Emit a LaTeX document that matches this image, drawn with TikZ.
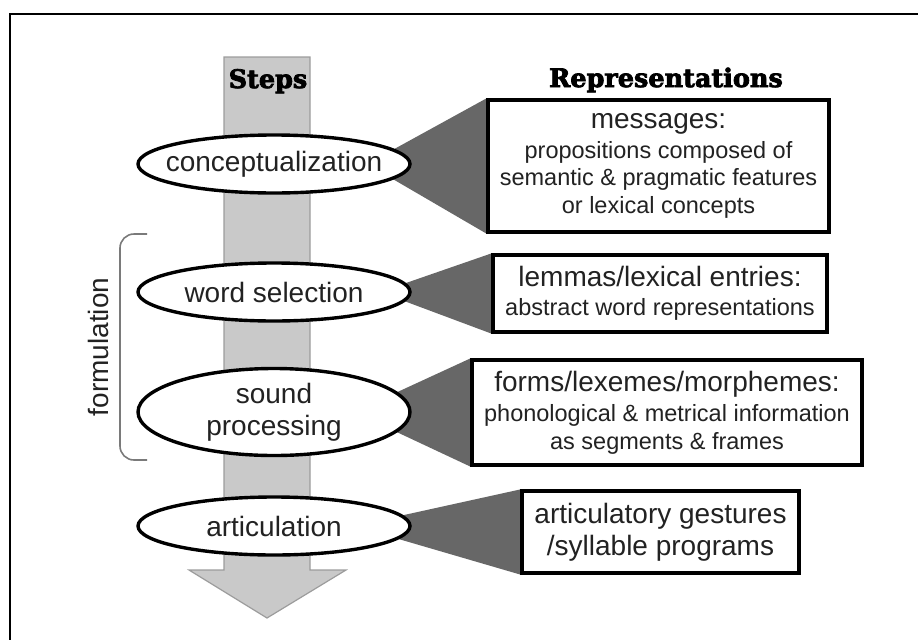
\documentclass[tikz,border=0pt]{standalone}
\usepackage{fontspec}
\setmainfont{Liberation Sans}
\newfontfamily\slabfont{DejaVu Serif}[BoldFeatures={FakeBold=3}]
\usetikzlibrary{shapes.geometric,backgrounds}
\definecolor{shaftgray}{HTML}{C9C9C9}
\definecolor{shaftedge}{HTML}{9C9C9C}
\definecolor{wedgegray}{HTML}{676767}
\definecolor{inkgray}{HTML}{222222}
\definecolor{bracegray}{HTML}{7A7A7A}
\newcommand{\bigtxt}{\fontsize{28}{32}\selectfont}
\newcommand{\smalltxt}{\fontsize{23.5}{27.5}\selectfont}

\begin{document}
\begin{tikzpicture}[x=1pt,y=-1pt]
\tikzstyle{stepell}=[ellipse, draw, line width=3.4pt, fill=white, minimum width=272pt, minimum height=58pt, inner sep=0pt]
\tikzstyle{steplabel}=[text=inkgray, font=\bigtxt, align=center]
\tikzstyle{reprbox}=[rectangle, draw, line width=3.2pt, fill=white, text=inkgray, align=center, inner sep=0pt, font=\smalltxt]
\tikzstyle{headtxt}=[font=\slabfont\bfseries\fontsize{25.5}{30}\selectfont, anchor=base]
\useasboundingbox (0,0) rectangle (918,640);
\draw[line width=2.8pt] (918,14) -- (10,14) -- (10,640);
\draw (268,88) node (steps) [headtxt] {Steps};
\draw (666,87) node (reprs) [headtxt] {Representations};
\draw (274,164) node (concept) [stepell, label={[steplabel]center:conceptualization}] {};
\draw (274,292) node (word) [stepell, label={[steplabel]center:word selection}] {};
\draw (274,412) node (sound) [stepell, minimum height=87pt, label={[steplabel]center:sound\\processing}] {};
\draw (274,526) node (artic) [stepell, label={[steplabel]center:articulation}] {};
\draw (658.5,166) node (msg) [reprbox, minimum width=341pt, minimum height=132pt] {\bigtxt messages:\\[2pt] propositions composed of\\ semantic \& pragmatic features\\ or lexical concepts};
\draw (660,293.5) node (lemma) [reprbox, minimum width=334pt, minimum height=77pt] {\bigtxt lemmas/lexical entries:\\[2pt] abstract word representations};
\draw (667,412.5) node (forms) [reprbox, minimum width=390pt, minimum height=105pt] {\bigtxt forms/lexemes/morphemes:\\[3pt] phonological \& metrical information\\ as segments \& frames};
\draw (660.5,532) node (gest) [reprbox, font=\bigtxt, minimum width=277pt, minimum height=82pt] {articulatory gestures\\ /syllable programs};
\draw (98.5,347) node (formul) [rotate=90, text=inkgray, font=\bigtxt] {formulation};
\draw[bracegray, line width=1.6pt, rounded corners=14pt] (147,234) -- (120,234) -- (120,460) -- (147,460);
\begin{scope}[on background layer]
\draw[fill=shaftgray, draw=shaftedge, line width=1.2pt] (224,57) -- (310,57) -- (310,570) -- (346,570) -- (267,618) -- (189,570) -- (224,570) -- cycle;
\fill[wedgegray] (msg.north west) -- (msg.south west) -- ([xshift=93pt]concept.center) -- cycle;
\fill[wedgegray] (lemma.north west) -- (lemma.south west) -- ([xshift=106pt]word.center) -- cycle;
\fill[wedgegray] (forms.north west) -- (forms.south west) -- ([xshift=80pt]sound.center) -- cycle;
\fill[wedgegray] (gest.north west) -- (gest.south west) -- ([xshift=80pt]artic.center) -- cycle;
\end{scope}
\end{tikzpicture}
\end{document}
